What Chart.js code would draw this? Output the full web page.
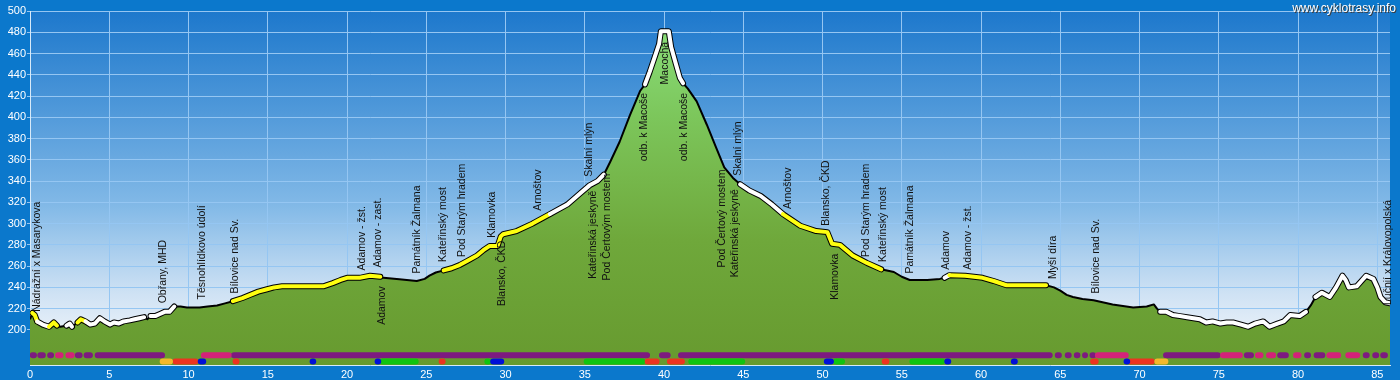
<!DOCTYPE html>
<html><head><meta charset="utf-8">
<script src="https://cdn.jsdelivr.net/npm/chart.js@4.4.1/dist/chart.umd.min.js"></script>
<style>html,body{margin:0;padding:0;background:#0b78cc;overflow:hidden}#wrap{width:1400px;height:380px}</style>
</head><body><div id="wrap"><canvas id="c" width="1400" height="380"></canvas></div>
<script>
// ---- data ----
const profileKm = [0,0.15,0.3,0.45,0.8,1.2,1.5,1.7,1.9,2.3,2.5,2.65,3.0,3.2,3.5,3.8,4.1,4.4,4.7,5.05,5.3,5.6,5.9,6.3,6.6,6.9,7.2,7.4,7.6,7.9,8.2,8.5,8.8,9.1,9.5,9.9,10.3,10.7,11.2,11.8,12.3,12.8,13.4,13.9,14.4,14.9,15.4,15.9,17.0,18.5,19.1,19.6,20.0,20.8,21.45,22.1,22.3,23.3,24.4,24.9,25.2,25.6,26.1,26.6,27.1,27.6,28.2,28.6,29.0,29.5,29.7,29.85,30.7,31.7,32.8,33.9,34.9,35.3,35.8,36.2,36.6,37.2,37.85,38.5,38.8,39.1,39.42,39.69,39.8,40.3,40.45,40.75,41.0,41.2,41.5,42.06,42.7,43.3,43.8,44.35,44.8,45.4,46.1,46.8,47.5,48.6,49.6,50.3,50.6,51.1,51.9,52.8,53.7,54.5,55.0,55.5,56.6,57.4,57.7,58.0,59.0,60.1,60.8,61.6,64.1,64.6,65.0,65.4,65.8,66.4,67.1,68.3,69.6,70.45,70.9,71.1,71.3,71.7,72.1,72.55,73.0,73.4,73.8,74.2,74.6,75.1,75.5,75.9,76.4,76.85,77.3,77.8,78.2,78.7,79.1,79.5,80.1,80.5,80.8,81.1,81.5,82.0,82.4,82.8,83.0,83.2,83.7,84.0,84.3,84.75,85.0,85.2,85.5,85.8];
const profileElev = [210,216,214,208,205,203,207,204,203,204,206,203,207,210,208,205,206,211,208,205,207,206,208,209,210,211,212,210,213,213,215,217,217,222,222,221,221,221,222,223,225,227,230,233,236,238,240,241,241,241,244,247,249,249,251,250,249,247.6,246,248,251,254,256,258,261,265,270,275,279,279,288,290,293,300,309,318,331,336,340,346,358,377,402,425,431,443,457,469,481,481,466,450,437,432,427,415,393,371,353,343,337,331,326,318,309,298,293,292,281,280,270,263,257,254.5,250,247,247,248,249,251.5,251,249,246,242,242,240,237,233,231,229,228,224,221,222,224,220,217,217,214,213,212,211,210,207,208,206,207,207,205,203,206,208,203,206,208,214,213,217,223,231,235,231,240,251,247,240,241,246,251,248,240,231,226,225];

// surface overlays on the profile line [fromKm, toKm]
const whiteSegments = [[0.5,1.3],[2.2,2.6],[3.5,7.2],[7.6,9.1],[32.8,36.2],[38.8,41.3],[44.6,47.5],[57.7,58.0],[71.3,76.7],[77.0,77.8],[78.0,79.0],[79.2,80.5],[81.0,82.2],[82.4,85.8]];
const yellowSegments = [[0.1,0.5],[1.3,1.7],[3.0,3.5],[12.8,22.1],[26.0,32.8],[47.5,53.6],[58.0,64.1],[67.0,67.3],[77.8,78.0],[79.0,79.2]];

// bottom strips [fromKm, toKm]
const row1Purple = [[0.0,0.42],[0.48,0.98],[1.1,1.5],[2.85,3.3],[3.4,3.95],[4.1,8.5],[12.7,39.1],[39.7,40.4],[40.9,64.5],[64.67,65.08],[65.3,65.7],[65.87,66.25],[66.44,66.72],[66.9,67.2],[71.5,75.1],[76.6,77.2],[78.7,79.4],[80.4,80.8],[81.0,81.7],[84.1,84.5],[84.7,85.1],[85.2,85.65]];
const row1Pink = [[1.6,2.1],[2.25,2.8],[10.8,12.7],[67.2,69.3],[75.1,76.5],[77.3,77.8],[78.0,78.6],[79.7,80.2],[81.8,82.7],[83.0,83.9]];
const row2Green = [[22.1,24.5],[28.7,29.05],[34.95,38.8],[41.55,45.1],[50.7,51.4],[55.5,57.7]];
const row2Red = [[9.0,10.6],[12.8,13.2],[25.8,26.2],[38.8,39.7],[40.2,41.3],[53.75,54.2],[66.9,67.4],[69.25,70.95]];
const row2Orange = [[8.2,9.0],[70.95,71.8]];
const row2Blue = [[10.6,11.1],[17.7,18.0],[21.8,22.1],[29.05,29.9],[50.1,50.7],[57.7,58.1],[61.9,62.3],[69.1,69.3]];

// waypoint labels
const labelKm = [0.42,8.41,10.83,12.93,20.93,21.98,22.19,24.4,26.08,27.24,29.13,29.76,32.07,35.29,35.54,36.38,38.76,40.06,41.26,43.64,44.48,44.69,47.84,50.2,50.8,52.75,53.8,55.5,57.8,59.2,64.52,67.25,85.7];
const labelText = ["Nádražní x Masarykova","Obřany, MHD","Těsnohlídkovo údolí","Bílovice nad Sv.","Adamov - žst.","Adamov - zast.","Adamov","Památník Žalmana","Kateřinský most","Pod Starým hradem","Klamovka","Blansko, ČKD","Arnoštov","Skalní mlýn","Kateřinská jeskyně","Pod Čertovým mostem","odb. k Macoše","Macocha","odb. k Macoše","Pod Čertový mostem","Kateřinská jeskyně","Skalní mlýn","Arnoštov","Blansko, ČKD","Klamovka","Pod Starým hradem","Kateřinský most","Památník Žalmana","Adamov","Adamov - žst.","Myší díra","Bílovice nad Sv.","Lučnií x Královopolská"];
const labelSide = ["up","up","up","up","up","up","down","up","up","up","up","down","up","up","down","down","down","down","down","down","down","up","up","up","down","up","up","up","up","up","up","up","up"];
const labelElev = [217,225,228.7,234.3,256,258.6,241,253,264,268.5,286.6,284,312,344,331,347,423,471,423,351,332.4,345,313.7,298,271.7,268.5,264,253,256.7,256.7,248,234.3,223.4];

const xTicks = [0,5,10,15,20,25,30,35,40,45,50,55,60,65,70,75,80,85];
const yTicks = [200,220,240,260,280,300,320,340,360,380,400,420,440,460,480,500];
const watermark = "www.cyklotrasy.info";

// ---- rendering ----
const ROW1 = 176.2, ROW2 = 170.4;
const profile = profileKm.map((k,i)=>({x:k,y:profileElev[i]}));
const inSegs = (segs,a,b)=>{const m=(a+b)/2;return segs.some(s=>m>=s[0]&&m<=s[1]);};
function stripData(segs,yv){
  const d=[];
  segs.forEach(([s,e])=>{
    const inset=Math.max(0,Math.min(0.17,(e-s)/2-0.02));
    d.push({x:s+inset,y:yv},{x:e-inset,y:yv},{x:e,y:null});
  });
  return d;
}
const stripDs=(segs,yv,color,order)=>({data:stripData(segs,yv),borderColor:color,borderWidth:6,borderCapStyle:'round',pointRadius:0,fill:false,spanGaps:false,order});
const TRANSP='rgba(0,0,0,0)';

const bgPlugin={id:'bg',beforeDraw(chart){
  const {ctx,chartArea:a}=chart;ctx.save();
  ctx.fillStyle='#0b78cc';ctx.fillRect(0,0,chart.width,chart.height);
  const g=ctx.createLinearGradient(0,a.top,0,a.bottom);
  g.addColorStop(0,'#1d78cc');g.addColorStop(0.25,'#4a95d8');g.addColorStop(0.55,'#82b9e7');
  g.addColorStop(0.8,'#cfe2f4');g.addColorStop(0.9,'#e6eff8');g.addColorStop(1,'#eef4fa');
  ctx.fillStyle=g;ctx.fillRect(a.left,a.top,a.right-a.left,a.bottom-a.top);ctx.restore();
}};
const labelPlugin={id:'wp',afterDatasetsDraw(chart){
  const {ctx,scales:{x,y}}=chart;ctx.save();
  ctx.font='10.5px "Liberation Sans", Arial, sans-serif';ctx.fillStyle='#111';ctx.textBaseline='middle';
  labelKm.forEach((k,i)=>{
    ctx.save();ctx.translate(Math.round(x.getPixelForValue(k)),y.getPixelForValue(labelElev[i]));
    ctx.rotate(-Math.PI/2);ctx.textAlign=labelSide[i]==='up'?'left':'right';
    ctx.fillText(labelText[i],0,0);ctx.restore();
  });
  ctx.restore();
}, afterDraw(chart){
  const ctx=chart.ctx;ctx.save();ctx.font='12px "Liberation Sans", Arial, sans-serif';
  ctx.textAlign='right';ctx.textBaseline='alphabetic';
  ctx.fillStyle='#3a3a3a';ctx.fillText(watermark,1397,13);
  ctx.fillStyle='#ffffff';ctx.fillText(watermark,1396,12);ctx.restore();
}};

const fillGrad=(c)=>{const ch=c.chart,a=ch.chartArea;if(!a)return '#6a9e34';
  const g=ch.ctx.createLinearGradient(0,a.bottom,0,a.top);
  g.addColorStop(0,'#679a2f');g.addColorStop(0.35,'#6fa83b');g.addColorStop(0.7,'#7cc65b');g.addColorStop(1,'#8ce27f');return g;};

new Chart(document.getElementById('c'),{
  type:'line',
  data:{datasets:[
    {data:profile,borderColor:'#000',borderWidth:2,fill:'start',backgroundColor:fillGrad,pointRadius:0,order:20,borderJoinStyle:'round'},
    {data:profile,borderColor:TRANSP,borderWidth:6,borderCapStyle:'round',borderJoinStyle:'round',pointRadius:0,fill:false,order:19,
      segment:{borderColor:c=>(inSegs(whiteSegments,c.p0.parsed.x,c.p1.parsed.x)||inSegs(yellowSegments,c.p0.parsed.x,c.p1.parsed.x))?'#000':TRANSP}},
    {data:profile,borderColor:TRANSP,borderWidth:4,borderCapStyle:'round',borderJoinStyle:'round',pointRadius:0,fill:false,order:18,
      segment:{borderColor:c=>inSegs(whiteSegments,c.p0.parsed.x,c.p1.parsed.x)?'#ffffff':(inSegs(yellowSegments,c.p0.parsed.x,c.p1.parsed.x)?'#ffff10':TRANSP)}},
    stripDs(row1Purple,ROW1,'#7d1a80',10),
    stripDs(row1Pink,ROW1,'#d42279',9),
    stripDs(row2Green,ROW2,'#10c410',8),
    stripDs(row2Red,ROW2,'#ec3420',7),
    stripDs(row2Orange,ROW2,'#f4b82c',6),
    stripDs(row2Blue,ROW2,'#0010d8',5)
  ]},
  options:{
    responsive:false,animation:false,
    layout:{padding:{top:11,right:10,left:0,bottom:0}},
    plugins:{legend:{display:false},tooltip:{enabled:false}},
    scales:{
      x:{type:'linear',min:0,max:85.8,
        afterBuildTicks:s=>{s.ticks=xTicks.map(v=>({value:v}));},
        afterFit:s=>{s.height=15;},
        grid:{color:'#95c6f2',drawTicks:false},border:{color:'#d8eaf9'},
        ticks:{color:'#ffffff',font:{family:'"Liberation Sans", Arial, sans-serif',size:11},padding:3,maxRotation:0,autoSkip:false}},
      y:{min:167,max:500,
        afterBuildTicks:s=>{s.ticks=yTicks.map(v=>({value:v}));},
        afterFit:s=>{s.width=30;},
        grid:{color:'#95c6f2',tickLength:3},border:{color:'#d8eaf9'},
        ticks:{color:'#ffffff',font:{family:'"Liberation Sans", Arial, sans-serif',size:11},padding:1}}
    }
  },
  plugins:[bgPlugin,labelPlugin]
});
</script></body></html>
